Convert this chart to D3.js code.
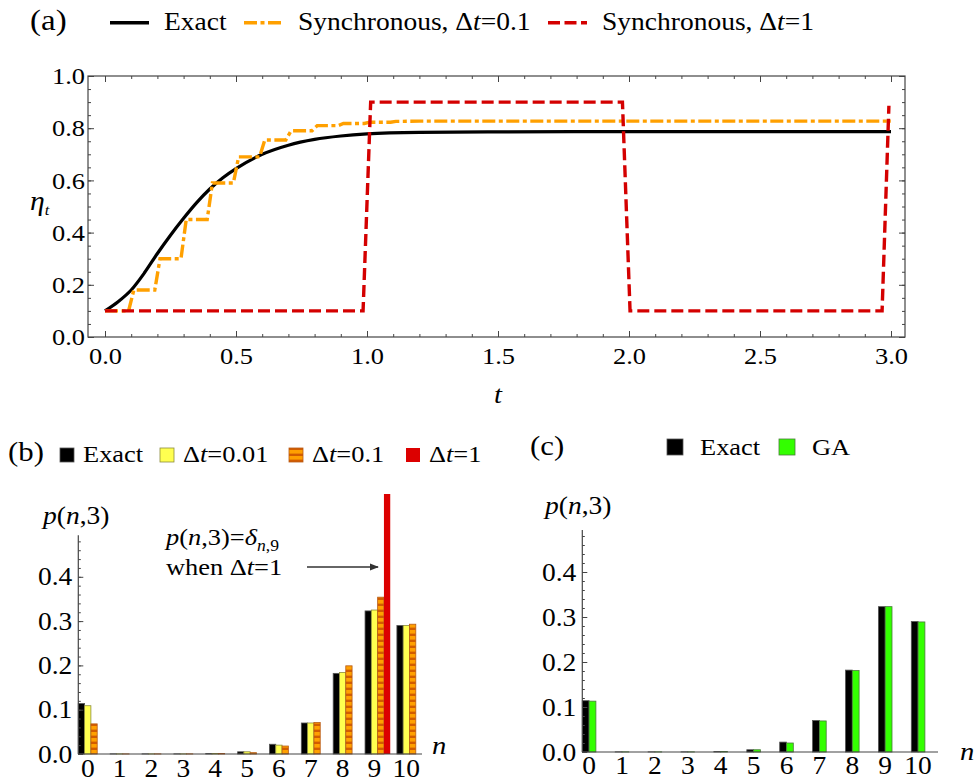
<!DOCTYPE html>
<html>
<head>
<meta charset="utf-8">
<script src="https://cdnjs.cloudflare.com/ajax/libs/d3/7.8.5/d3.min.js"></script>
<style>
body { margin: 0; background: #fff; }
svg text, svg tspan { font-family: "Liberation Serif", "Times New Roman", serif !important; fill: #000; }
.ax path.domain { display: none; }
.ax line { stroke: #444; stroke-width: 1; }
.tickA text { font-size: 24px; }
.tickB text { font-size: 25px; }
</style>
</head>
<body>
<svg id="fig" width="976" height="782"></svg>
<script>
// ---- panel (a): eta_t versus t ----
var tExact   = [0, 0.05, 0.1, 0.15, 0.2, 0.25, 0.3, 0.35, 0.4, 0.45, 0.5, 0.6, 0.7, 0.8, 0.9, 1.0, 1.2, 1.5, 2.0, 3.0];
var etaExact = [0.1, 0.135, 0.18, 0.245, 0.32, 0.39, 0.455, 0.515, 0.567, 0.61, 0.645, 0.70, 0.735, 0.757, 0.77, 0.778, 0.784, 0.786, 0.787, 0.787];

var tSync01   = [0, 0.09, 0.11, 0.19, 0.21, 0.29, 0.31, 0.39, 0.41, 0.49, 0.51, 0.59, 0.61, 0.69, 0.71, 0.79, 0.81, 0.89, 0.91, 0.99, 1.01, 1.09, 1.11, 1.2, 3.0];
var etaSync01 = [0.1, 0.1, 0.18, 0.18, 0.30, 0.30, 0.45, 0.45, 0.59, 0.59, 0.69, 0.69, 0.755, 0.755, 0.79, 0.79, 0.81, 0.81, 0.818, 0.818, 0.823, 0.823, 0.826, 0.827, 0.827];

var tSync1   = [0, 0.985, 1.014, 1.975, 2.004, 2.966, 2.992];
var etaSync1 = [0.1, 0.1, 0.9, 0.9, 0.1, 0.1, 0.886];

var tTicks   = [0, 0.5, 1.0, 1.5, 2.0, 2.5, 3.0];
var etaTicks = [0, 0.2, 0.4, 0.6, 0.8, 1.0];

// ---- panels (b) and (c): p(n,3) ----
var nVals  = [0, 1, 2, 3, 4, 5, 6, 7, 8, 9, 10];
var pExact = [0.114, 0.0003, 0.0003, 0.0003, 0.001, 0.005, 0.022, 0.070, 0.182, 0.323, 0.290];
var pDt001 = [0.109, 0.0003, 0.0003, 0.0003, 0.001, 0.005, 0.020, 0.070, 0.184, 0.325, 0.290];
var pDt01  = [0.068, 0.0002, 0.0003, 0.0003, 0.001, 0.003, 0.018, 0.071, 0.199, 0.354, 0.293];
var pDt1   = [0, 0, 0, 0, 0, 0, 0, 0, 0, 1, 0];
var pGA    = [0.113, 0.0003, 0.0003, 0.0003, 0.001, 0.005, 0.020, 0.069, 0.181, 0.323, 0.289];
var pTicks = [0, 0.1, 0.2, 0.3, 0.4];

var cBlack = "#000000", cOrange = "#ffa000", cRed = "#d40000";
var cYellow = "#ffff50", cStripe = "#d25c00", cBarRed = "#dc0000", cGreen = "#33ff00";

var svg = d3.select("#fig");

// math-ish text: parts = [text, italic, dy, size]
function rich(g, x, y, size, parts, anchor) {
  var t = g.append("text").attr("x", x).attr("y", y)
    .style("font-size", size + "px")
    .attr("text-anchor", anchor || "start");
  parts.forEach(function(p) {
    var s = t.append("tspan").text(p[0]);
    if (p[1]) s.style("font-style", "italic");
    if (p[2] !== undefined) s.attr("dy", p[2]);
    if (p[3]) s.style("font-size", p[3] + "px");
  });
  return t;
}

// ================= panel (a) =================
var gA = svg.append("g");
var xA = d3.scaleLinear().domain([0, 3]).range([105, 891]);
var yA = d3.scaleLinear().domain([0, 1]).range([337, 76]);
var frameA = {x0: 88, x1: 905, y0: 76, y1: 337};

var minorT = d3.range(0, 31).map(function(i) { return i / 10; });
var minorEta = d3.range(0, 21).map(function(i) { return i / 20; });

function axisPair(g, axis, tr) {
  g.append("g").attr("class", "ax tickA").attr("transform", tr).call(axis)
    .attr("font-family", null);
}
// minor ticks on all four sides
axisPair(gA, d3.axisBottom(xA).tickValues(minorT).tickSize(-3).tickFormat(""), "translate(0," + frameA.y1 + ")");
axisPair(gA, d3.axisTop(xA).tickValues(minorT).tickSize(-3).tickFormat(""), "translate(0," + frameA.y0 + ")");
axisPair(gA, d3.axisLeft(yA).tickValues(minorEta).tickSize(-3).tickFormat(""), "translate(" + frameA.x0 + ",0)");
axisPair(gA, d3.axisRight(yA).tickValues(minorEta).tickSize(-3).tickFormat(""), "translate(" + frameA.x1 + ",0)");
// major ticks + labels
axisPair(gA, d3.axisBottom(xA).tickValues(tTicks).tickSize(-6).tickPadding(10).tickFormat(d3.format(".1f")), "translate(0," + frameA.y1 + ")");
axisPair(gA, d3.axisTop(xA).tickValues(tTicks).tickSize(-6).tickFormat(""), "translate(0," + frameA.y0 + ")");
axisPair(gA, d3.axisLeft(yA).tickValues(etaTicks).tickSize(-6).tickPadding(3).tickFormat(d3.format(".1f")), "translate(" + frameA.x0 + ",0)");
axisPair(gA, d3.axisRight(yA).tickValues(etaTicks).tickSize(-6).tickFormat(""), "translate(" + frameA.x1 + ",0)");

gA.append("rect")
  .attr("x", frameA.x0).attr("y", frameA.y0)
  .attr("width", frameA.x1 - frameA.x0).attr("height", frameA.y1 - frameA.y0)
  .attr("fill", "none").attr("stroke", "#444").attr("stroke-width", 1.2);

var lineA = d3.line().x(function(d) { return xA(d[0]); }).y(function(d) { return yA(d[1]); });

gA.append("path")
  .datum(d3.zip(tExact, etaExact))
  .attr("d", lineA.curve(d3.curveMonotoneX))
  .attr("fill", "none").attr("stroke", cBlack).attr("stroke-width", 3.2);

lineA.curve(d3.curveLinear);
gA.append("path")
  .datum(d3.zip(tSync01, etaSync01))
  .attr("d", lineA)
  .attr("fill", "none").attr("stroke", cOrange).attr("stroke-width", 3.4)
  .attr("stroke-dasharray", "13,3.5,4,3.5");

gA.append("path")
  .datum(d3.zip(tSync1, etaSync1))
  .attr("d", lineA)
  .attr("fill", "none").attr("stroke", cRed).attr("stroke-width", 3.4)
  .attr("stroke-dasharray", "12,5");

// axis labels
rich(gA, 30, 210, 27, [["η", true], ["t", true, 5, 15]]);
rich(gA, 498, 403, 26, [["t", true]], "middle");

// top legend
rich(svg, 30, 30, 30, [["(a)"]]);
var legA = [
  {x: 110, color: cBlack, dash: null, text: [["Exact"]]},
  {x: 244, color: cOrange, dash: "13,3.5,4,3.5", text: [["Synchronous, Δ"], ["t", true], ["=0.1"]]},
  {x: 548, color: cRed, dash: "12,4.5", text: [["Synchronous, Δ"], ["t", true], ["=1"]]}
];
legA.forEach(function(d) {
  svg.append("line").attr("x1", d.x).attr("x2", d.x + 39).attr("y1", 22.7).attr("y2", 22.7)
    .attr("stroke", d.color).attr("stroke-width", 3.4).attr("stroke-dasharray", d.dash);
  rich(svg, d.x + 54, 30, 25, d.text);
});

// ================= panel (b) =================
var defs = svg.append("defs");
var pat = defs.append("pattern").attr("id", "stripes")
  .attr("patternUnits", "userSpaceOnUse").attr("width", 8).attr("height", 6);
pat.append("rect").attr("width", 8).attr("height", 6).attr("fill", cOrange);
pat.append("rect").attr("y", 3.6).attr("width", 8).attr("height", 2.4).attr("fill", cStripe);
defs.append("clipPath").attr("id", "clipB").append("rect")
  .attr("x", 70).attr("y", 494).attr("width", 380).attr("height", 270);

var gB = svg.append("g");
var stepB = 31.86, barB = 6.3;
var xB = d3.scaleBand().domain(nVals)
  .range([78.3, 78.3 + 10 * stepB + 4 * barB]).paddingInner(1 - 4 * barB / stepB).paddingOuter(0);
var yB = d3.scaleLinear().domain([0, 0.5]).range([754, 532.5]);

var seriesB = [
  {vals: pExact, fill: cBlack, stroke: "#555"},
  {vals: pDt001, fill: cYellow, stroke: "#8c8c3c"},
  {vals: pDt01, fill: "url(#stripes)", stroke: "#b85a14"},
  {vals: pDt1, fill: cBarRed, stroke: "none"}
];
var barsB = gB.append("g").attr("clip-path", "url(#clipB)");
seriesB.forEach(function(s, k) {
  barsB.selectAll(null)
    .data(nVals.filter(function(n) { return s.vals[n] > 0; }))
    .enter().append("rect")
    .attr("x", function(n) { return xB(n) + k * barB; })
    .attr("y", function(n) { return yB(s.vals[n]); })
    .attr("width", barB)
    .attr("height", function(n) { return yB(0) - yB(s.vals[n]); })
    .attr("fill", s.fill).attr("stroke", s.stroke).attr("stroke-width", 0.8);
});

var minorP = d3.range(0, 25).map(function(i) { return i / 50; });
gB.append("g").attr("class", "ax tickB").attr("transform", "translate(78.3,0)")
  .call(d3.axisLeft(yB).tickValues(minorP).tickSize(-2.5).tickFormat(""));
gB.append("g").attr("class", "ax tickB").attr("transform", "translate(78.3,0)")
  .call(d3.axisLeft(yB).tickValues(pTicks).tickSize(-5).tickPadding(6).tickFormat(d3.format(".1f")))
  .attr("font-family", null);
gB.append("line").attr("x1", 78.3).attr("x2", 78.3).attr("y1", yB(0)).attr("y2", yB(0.494))
  .attr("stroke", "#444").attr("stroke-width", 1.2);
gB.append("line").attr("x1", 78.3).attr("x2", 422).attr("y1", yB(0)).attr("y2", yB(0))
  .attr("stroke", "#444").attr("stroke-width", 1.2);

gB.selectAll(null).data(nVals).enter().append("text")
  .attr("x", function(n) { return xB(n) + 1.5 * barB; })
  .attr("y", 777).attr("text-anchor", "middle").style("font-size", "25px")
  .text(function(n) { return n; });

rich(gB, 432, 754, 26, [["n", true]]);
rich(gB, 43, 524, 25, [["p", true], ["("], ["n", true], [",3)"]]);
rich(gB, 166, 545, 24, [["p", true], ["("], ["n", true], [",3)="], ["δ", true], ["n", true, 6, 16], [",9", false, 0, 16]]);
rich(gB, 166, 575, 24, [["when Δ"], ["t", true], ["=1"]]);

defs.append("marker").attr("id", "arrow").attr("viewBox", "0 0 10 10")
  .attr("refX", 9).attr("refY", 5).attr("markerWidth", 7).attr("markerHeight", 7)
  .attr("orient", "auto").append("path").attr("d", "M0,1L10,5L0,9Z").attr("fill", "#333");
gB.append("line").attr("x1", 307).attr("x2", 378).attr("y1", 567).attr("y2", 567)
  .attr("stroke", "#333").attr("stroke-width", 1.3).attr("marker-end", "url(#arrow)");

// legend (b)
rich(svg, 8, 461, 28, [["(b)"]]);
var legB = [
  {x: 60, fill: cBlack, stroke: "#555", text: [["Exact"]]},
  {x: 160, fill: cYellow, stroke: "#8c8c3c", text: [["Δ"], ["t", true], ["=0.01"]]},
  {x: 289, fill: "url(#stripes)", stroke: "#b85a14", text: [["Δ"], ["t", true], ["=0.1"]]},
  {x: 406, fill: cBarRed, stroke: "none", text: [["Δ"], ["t", true], ["=1"]]}
];
legB.forEach(function(d) {
  svg.append("rect").attr("x", d.x).attr("y", 448).attr("width", 14).attr("height", 14)
    .attr("fill", d.fill).attr("stroke", d.stroke).attr("stroke-width", 0.8);
  rich(svg, d.x + 23, 462, 24, d.text);
});

// ================= panel (c) =================
var gC = svg.append("g");
var stepC = 32.9, barC = 6.8;
var xC = d3.scaleBand().domain(nVals)
  .range([582.3, 582.3 + 10 * stepC + 2 * barC]).paddingInner(1 - 2 * barC / stepC).paddingOuter(0);
var yC = d3.scaleLinear().domain([0, 0.5]).range([752, 527]);

var seriesC = [
  {vals: pExact, fill: cBlack, stroke: "#555"},
  {vals: pGA, fill: cGreen, stroke: "#4a7a3a"}
];
seriesC.forEach(function(s, k) {
  gC.selectAll(null).data(nVals).enter().append("rect")
    .attr("x", function(n) { return xC(n) + k * barC; })
    .attr("y", function(n) { return yC(s.vals[n]); })
    .attr("width", barC)
    .attr("height", function(n) { return yC(0) - yC(s.vals[n]); })
    .attr("fill", s.fill).attr("stroke", s.stroke).attr("stroke-width", 0.8);
});

gC.append("g").attr("class", "ax tickB").attr("transform", "translate(582.3,0)")
  .call(d3.axisLeft(yC).tickValues(minorP).tickSize(-2.5).tickFormat(""));
gC.append("g").attr("class", "ax tickB").attr("transform", "translate(582.3,0)")
  .call(d3.axisLeft(yC).tickValues(pTicks).tickSize(-5).tickPadding(6).tickFormat(d3.format(".1f")))
  .attr("font-family", null);
gC.append("line").attr("x1", 582.3).attr("x2", 582.3).attr("y1", yC(0)).attr("y2", 530)
  .attr("stroke", "#444").attr("stroke-width", 1.2);
gC.append("line").attr("x1", 582.3).attr("x2", 938).attr("y1", yC(0)).attr("y2", yC(0))
  .attr("stroke", "#444").attr("stroke-width", 1.2);

gC.selectAll(null).data(nVals).enter().append("text")
  .attr("x", function(n) { return xC(n) + xC.bandwidth() / 2; })
  .attr("y", 774).attr("text-anchor", "middle").style("font-size", "25px")
  .text(function(n) { return n; });

rich(gC, 960, 760, 26, [["n", true]]);
rich(gC, 545, 514, 25, [["p", true], ["("], ["n", true], [",3)"]]);

// legend (c)
rich(svg, 530, 455, 28, [["(c)"]]);
var legC = [
  {x: 667, fill: cBlack, stroke: "#555", text: [["Exact"]]},
  {x: 779, fill: cGreen, stroke: "#4a7a3a", text: [["GA"]]}
];
legC.forEach(function(d) {
  svg.append("rect").attr("x", d.x).attr("y", 439).attr("width", 16).attr("height", 16)
    .attr("fill", d.fill).attr("stroke", d.stroke).attr("stroke-width", 0.8);
  rich(svg, d.x + 33, 455, 24, d.text);
});

// Computer Modern is wider than Liberation Serif: stretch glyphs a little
svg.selectAll("text").each(function() {
  var w = this.getComputedTextLength();
  if (w > 0) d3.select(this).attr("textLength", w * 1.1).attr("lengthAdjust", "spacingAndGlyphs");
});
</script>
</body>
</html>
